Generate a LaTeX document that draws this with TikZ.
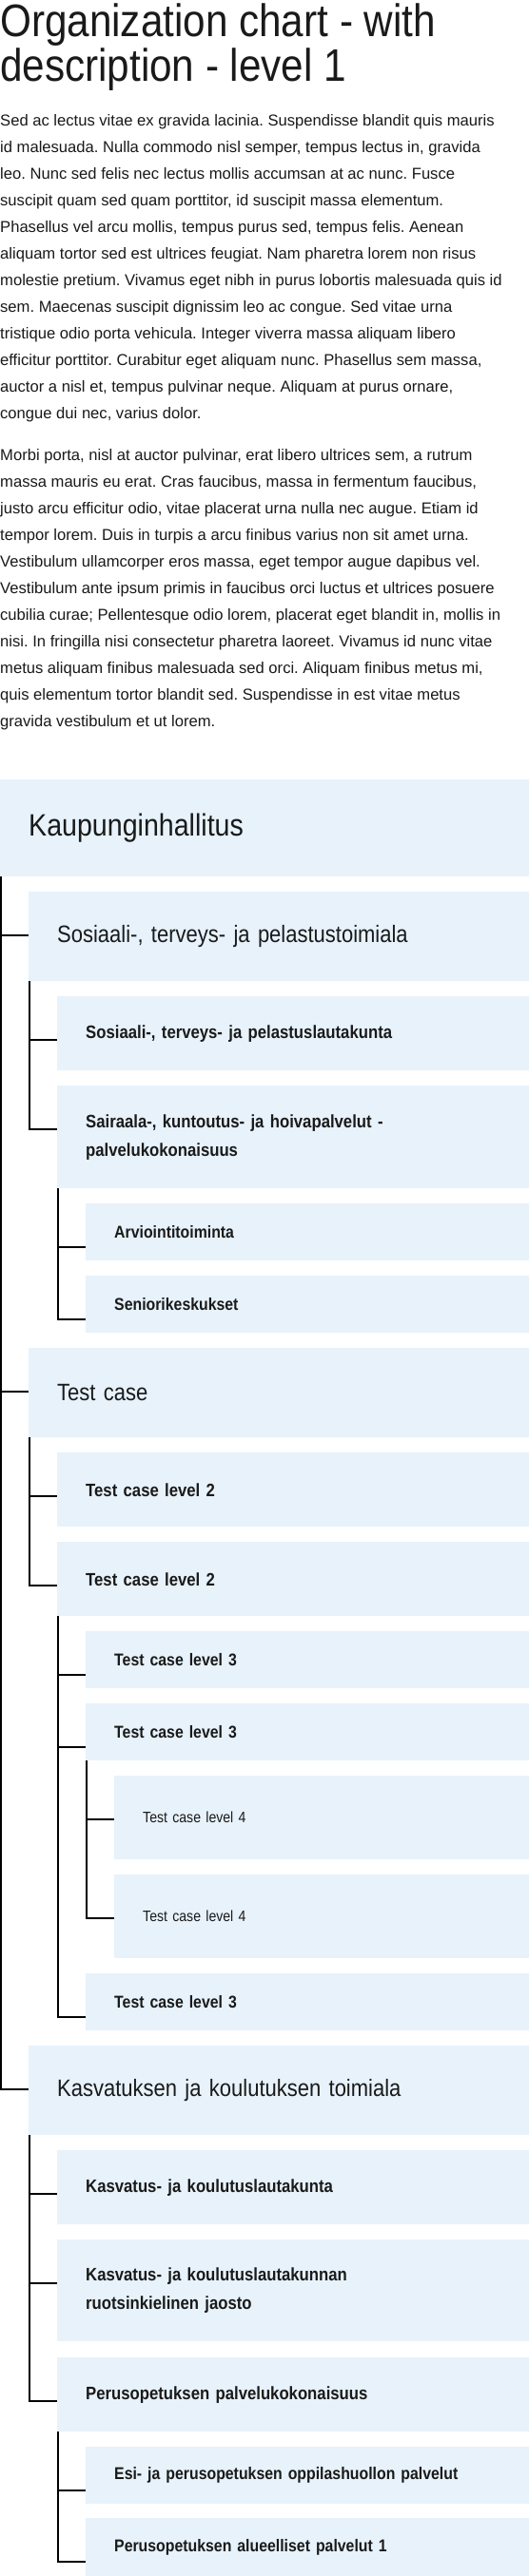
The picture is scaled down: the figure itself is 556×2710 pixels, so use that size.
\documentclass[tikz,border=0pt]{standalone}
\usepackage{fontspec}
\setmainfont{Liberation Sans}
\newfontfamily\grotesk{Liberation Sans}[FakeStretch=0.88]
\definecolor{boxblue}{RGB}{231,242,251}
\definecolor{ink}{RGB}{26,26,26}
\frenchspacing
\begin{document}
\begin{tikzpicture}[x=1pt, y=-1pt,
  every node/.style={inner sep=0pt, text=ink},
  box/.style={fill=boxblue, anchor=north west, inner xsep=30pt, align=left},
  lvl0/.style={box, text width=496pt, minimum height=102pt, font=\grotesk\fontsize{32.5}{38}\selectfont},
  lvl1/.style={box, text width=466pt, minimum height=94pt, font=\grotesk\fontsize{25}{30}\selectfont},
  lvl2/.style={box, text width=436pt, minimum height=78pt, font=\grotesk\fontsize{19}{30}\selectfont\bfseries},
  lvl3/.style={box, text width=406pt, minimum height=60pt, font=\grotesk\fontsize{18}{30}\selectfont\bfseries},
  lvl4/.style={box, text width=376pt, minimum height=88pt, font=\grotesk\fontsize{16}{24}\selectfont},
  link/.style={line width=2pt, line join=miter}]
\fill[white] (0,0) rectangle (556,2710);
\useasboundingbox (0,0) rectangle (556,2710);
\node[anchor=north west, align=left, font=\grotesk\fontsize{48}{47}\selectfont] (title) at (0,4)
  {Organization chart - with\\description - level 1};
\node[anchor=north west, align=left, font=\fontsize{16.6}{28}\selectfont] (intro) at (0,120)
  {Sed ac lectus vitae ex gravida lacinia. Suspendisse blandit quis mauris\\
   id malesuada. Nulla commodo nisl semper, tempus lectus in, gravida\\
   leo. Nunc sed felis nec lectus mollis accumsan at ac nunc. Fusce\\
   suscipit quam sed quam porttitor, id suscipit massa elementum.\\
   Phasellus vel arcu mollis, tempus purus sed, tempus felis. Aenean\\
   aliquam tortor sed est ultrices feugiat. Nam pharetra lorem non risus\\
   molestie pretium. Vivamus eget nibh in purus lobortis malesuada quis id\\
   sem. Maecenas suscipit dignissim leo ac congue. Sed vitae urna\\
   tristique odio porta vehicula. Integer viverra massa aliquam libero\\
   efficitur porttitor. Curabitur eget aliquam nunc. Phasellus sem massa,\\
   auctor a nisl et, tempus pulvinar neque. Aliquam at purus ornare,\\
   congue dui nec, varius dolor.};
\node[anchor=north west, align=left, font=\fontsize{16.6}{28}\selectfont] (more) at (0,472)
  {Morbi porta, nisl at auctor pulvinar, erat libero ultrices sem, a rutrum\\
   massa mauris eu erat. Cras faucibus, massa in fermentum faucibus,\\
   justo arcu efficitur odio, vitae placerat urna nulla nec augue. Etiam id\\
   tempor lorem. Duis in turpis a arcu finibus varius non sit amet urna.\\
   Vestibulum ullamcorper eros massa, eget tempor augue dapibus vel.\\
   Vestibulum ante ipsum primis in faucibus orci luctus et ultrices posuere\\
   cubilia curae; Pellentesque odio lorem, placerat eget blandit in, mollis in\\
   nisi. In fringilla nisi consectetur pharetra laoreet. Vivamus id nunc vitae\\
   metus aliquam finibus malesuada sed orci. Aliquam finibus metus mi,\\
   quis elementum tortor blandit sed. Suspendisse in est vitae metus\\
   gravida vestibulum et ut lorem.};
% org chart
\node[lvl0] (root) at (0,820) {Kaupunginhallitus};
\node[lvl1] (sote) at (30,938) {Sosiaali-, terveys- ja pelastustoimiala};
\node[lvl2] (sotelk) at (60,1048) {Sosiaali-, terveys- ja pelastuslautakunta};
\node[lvl2, minimum height=108pt] (sairaala) at (60,1142) {Sairaala-, kuntoutus- ja hoivapalvelut -\\palvelukokonaisuus};
\node[lvl3] (arvio) at (90,1266) {Arviointitoiminta};
\node[lvl3] (senior) at (90,1342) {Seniorikeskukset};
\node[lvl1] (test) at (30,1418) {Test case};
\node[lvl2] (t2a) at (60,1528) {Test case level 2};
\node[lvl2] (t2b) at (60,1622) {Test case level 2};
\node[lvl3] (t3a) at (90,1716) {Test case level 3};
\node[lvl3] (t3b) at (90,1792) {Test case level 3};
\node[lvl4] (t4a) at (120,1868) {Test case level 4};
\node[lvl4] (t4b) at (120,1972) {Test case level 4};
\node[lvl3] (t3c) at (90,2076) {Test case level 3};
\node[lvl1] (kasko) at (30,2152) {Kasvatuksen ja koulutuksen toimiala};
\node[lvl2] (kaskolk) at (60,2262) {Kasvatus- ja koulutuslautakunta};
\node[lvl2, minimum height=107pt] (jaosto) at (60,2356) {Kasvatus- ja koulutuslautakunnan\\ruotsinkielinen jaosto};
\node[lvl2] (perus) at (60,2480) {Perusopetuksen palvelukokonaisuus};
\node[lvl3] (esi) at (90,2574) {Esi- ja perusopetuksen oppilashuollon palvelut};
\node[lvl3, minimum height=61pt] (alue) at (90,2649) {Perusopetuksen alueelliset palvelut 1};
\foreach \p/\c in {root/sote, root/test, root/kasko, sote/sotelk, sote/sairaala,
    sairaala/arvio, sairaala/senior, test/t2a, test/t2b, t2b/t3a, t2b/t3b, t2b/t3c,
    t3b/t4a, t3b/t4b, kasko/kaskolk, kasko/jaosto, kasko/perus, perus/esi, perus/alue}
{
    \draw[link] ([xshift=1pt]\p.south west) |- ([yshift=-46pt]\c.north west);
}
\end{tikzpicture}
\end{document}
